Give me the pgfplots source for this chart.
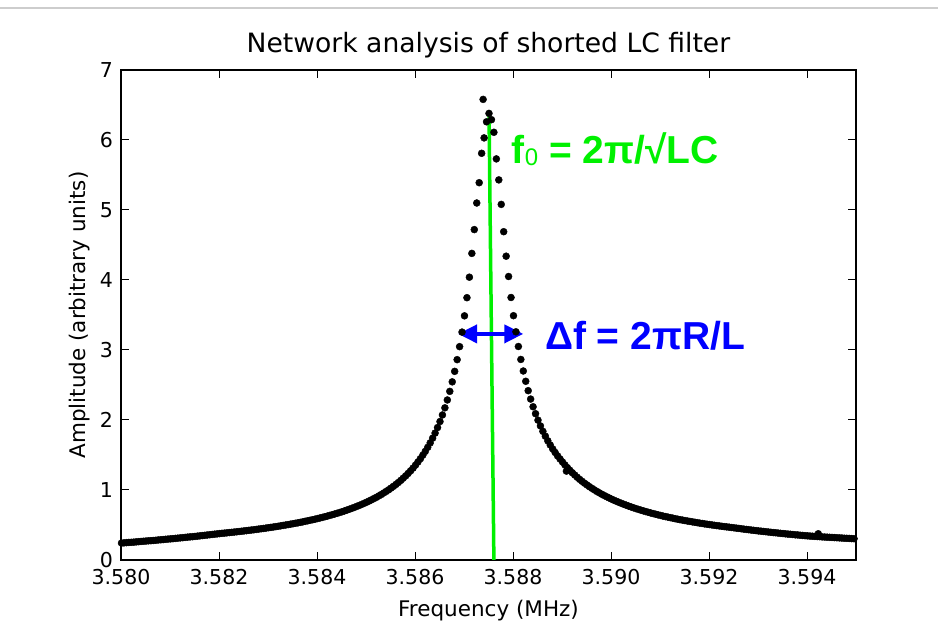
\documentclass[border=0pt]{standalone}
\usepackage{fontspec}
\setmainfont{DejaVu Sans}
\newfontfamily\annfont{Liberation Sans}
\usepackage{pgfplots}
\pgfplotsset{compat=1.18}
\usepackage{pgfplotstable}
\usetikzlibrary{arrows.meta}
\definecolor{myg}{RGB}{0,240,0}
\definecolor{topgray}{RGB}{205,205,205}

\pgfplotstableread{
x y
3.58001 0.242
3.58006 0.245
3.58011 0.248
3.58016 0.251
3.58021 0.253
3.58026 0.255
3.58031 0.259
3.58036 0.262
3.58041 0.265
3.58046 0.268
3.58051 0.271
3.58056 0.274
3.58061 0.276
3.58066 0.279
3.58071 0.282
3.58076 0.286
3.58081 0.289
3.58086 0.292
3.58091 0.296
3.58096 0.299
3.58101 0.302
3.58106 0.305
3.58111 0.309
3.58116 0.312
3.58121 0.316
3.58126 0.319
3.58131 0.323
3.58136 0.327
3.58141 0.330
3.58146 0.333
3.58151 0.337
3.58156 0.341
3.58161 0.345
3.58166 0.349
3.58171 0.353
3.58176 0.357
3.58181 0.361
3.58186 0.365
3.58191 0.369
3.58196 0.373
3.58201 0.377
3.58206 0.381
3.58211 0.384
3.58216 0.388
3.58221 0.392
3.58226 0.395
3.58231 0.399
3.58236 0.403
3.58241 0.407
3.58246 0.411
3.58251 0.415
3.58256 0.419
3.58261 0.424
3.58266 0.428
3.58271 0.432
3.58276 0.437
3.58281 0.442
3.58286 0.446
3.58291 0.451
3.58296 0.456
3.58301 0.461
3.58306 0.466
3.58311 0.471
3.58316 0.477
3.58321 0.482
3.58326 0.488
3.58331 0.494
3.58336 0.500
3.58341 0.506
3.58346 0.512
3.58351 0.518
3.58356 0.525
3.58361 0.531
3.58366 0.538
3.58371 0.545
3.58376 0.553
3.58381 0.560
3.58386 0.568
3.58391 0.575
3.58396 0.583
3.58401 0.592
3.58406 0.600
3.58411 0.609
3.58416 0.618
3.58421 0.627
3.58426 0.637
3.58431 0.647
3.58436 0.657
3.58441 0.667
3.58446 0.678
3.58451 0.689
3.58456 0.701
3.58461 0.713
3.58466 0.725
3.58471 0.738
3.58476 0.751
3.58481 0.765
3.58486 0.779
3.58491 0.794
3.58496 0.809
3.58501 0.825
3.58506 0.842
3.58511 0.859
3.58516 0.877
3.58521 0.895
3.58526 0.915
3.58531 0.935
3.58536 0.957
3.58541 0.979
3.58546 1.002
3.58551 1.027
3.58556 1.052
3.58561 1.079
3.58566 1.107
3.58571 1.137
3.58576 1.169
3.58581 1.202
3.58586 1.237
3.58591 1.274
3.58596 1.313
3.58601 1.355
3.58606 1.400
3.58611 1.447
3.58616 1.498
3.58621 1.552
3.58626 1.610
3.58631 1.673
3.58636 1.741
3.58641 1.813
3.58646 1.892
3.58651 1.978
3.58656 2.072
3.58661 2.174
3.58666 2.286
3.58671 2.409
3.58676 2.545
3.58681 2.695
3.58686 2.862
3.58691 3.048
3.58696 3.256
3.58701 3.488
3.58706 3.747
3.58711 4.04
3.58716 4.38
3.58721 4.72
3.58726 5.10
3.58731 5.39
3.58736 5.81
3.58739 6.58
3.58741 6.03
3.58746 6.26
3.58751 6.38
3.58756 6.29
3.58761 6.11
3.58766 5.73
3.58771 5.43
3.58776 5.08
3.58781 4.69
3.58786 4.34
3.58791 4.05
3.58796 3.75
3.58801 3.49
3.58806 3.26
3.58811 3.05
3.58816 2.865
3.58821 2.700
3.58826 2.553
3.58831 2.419
3.58836 2.299
3.58841 2.189
3.58846 2.090
3.58851 1.998
3.58856 1.915
3.58861 1.838
3.58866 1.769
3.58871 1.703
3.58876 1.643
3.58881 1.587
3.58886 1.536
3.58891 1.487
3.58896 1.443
3.58901 1.400
3.58906 1.358
3.58909 1.270
3.58911 1.319
3.58916 1.282
3.58921 1.247
3.58926 1.214
3.58931 1.182
3.58936 1.152
3.58941 1.124
3.58946 1.097
3.58951 1.072
3.58956 1.047
3.58961 1.024
3.58966 1.002
3.58971 0.980
3.58976 0.960
3.58981 0.940
3.58986 0.922
3.58991 0.904
3.58996 0.887
3.59001 0.870
3.59006 0.854
3.59011 0.839
3.59016 0.824
3.59021 0.810
3.59026 0.796
3.59031 0.783
3.59036 0.770
3.59041 0.758
3.59046 0.746
3.59051 0.734
3.59056 0.723
3.59061 0.712
3.59066 0.702
3.59071 0.692
3.59076 0.682
3.59081 0.672
3.59086 0.663
3.59091 0.654
3.59096 0.645
3.59101 0.637
3.59106 0.628
3.59111 0.620
3.59116 0.613
3.59121 0.605
3.59126 0.598
3.59131 0.590
3.59136 0.583
3.59141 0.576
3.59146 0.570
3.59151 0.563
3.59156 0.557
3.59161 0.551
3.59166 0.545
3.59171 0.539
3.59176 0.533
3.59181 0.527
3.59186 0.522
3.59191 0.516
3.59196 0.511
3.59201 0.506
3.59206 0.501
3.59211 0.496
3.59216 0.491
3.59221 0.487
3.59226 0.482
3.59231 0.477
3.59236 0.473
3.59241 0.469
3.59246 0.464
3.59251 0.460
3.59256 0.455
3.59261 0.451
3.59266 0.446
3.59271 0.441
3.59276 0.437
3.59281 0.433
3.59286 0.428
3.59291 0.424
3.59296 0.420
3.59301 0.415
3.59306 0.412
3.59311 0.408
3.59316 0.404
3.59321 0.400
3.59326 0.396
3.59331 0.392
3.59336 0.389
3.59341 0.385
3.59346 0.381
3.59351 0.378
3.59356 0.374
3.59361 0.370
3.59366 0.368
3.59371 0.364
3.59376 0.360
3.59381 0.358
3.59386 0.354
3.59391 0.351
3.59396 0.348
3.59401 0.345
3.59406 0.342
3.59411 0.340
3.59416 0.337
3.59421 0.335
3.59423 0.375
3.59426 0.333
3.59431 0.330
3.59436 0.328
3.59441 0.326
3.59446 0.324
3.59451 0.322
3.59456 0.320
3.59461 0.318
3.59466 0.316
3.59471 0.314
3.59476 0.311
3.59481 0.310
3.59486 0.308
3.59491 0.306
3.59496 0.304
3.59501 0.302
}\lcdata

\begin{document}
\begin{tikzpicture}
\useasboundingbox (0,0) rectangle (938bp,635bp);
\draw[topgray, line width=1.5bp] (0,627bp) -- (938bp,627bp);
\begin{axis}[
  at={(121bp,75bp)}, anchor=south west,
  scale only axis, width=735bp, height=490bp,
  xmin=3.580, xmax=3.595, ymin=0, ymax=7,
  xtick={3.580,3.582,3.584,3.586,3.588,3.590,3.592,3.594},
  xticklabels={3.580,3.582,3.584,3.586,3.588,3.590,3.592,3.594},
  ytick={0,1,2,3,4,5,6,7},
  yticklabels={0,1,2,3,4,5,6,7},
  tick align=inside,
  major tick length=8bp,
  tick style={black, line width=1bp},
  axis line style={line width=1.1bp},
  ticklabel style={font=\fontsize{20.5bp}{24bp}\selectfont, inner sep=0pt},
  xticklabel shift=9bp, yticklabel shift=8bp,
  title={Network analysis of shorted LC filter},
  title style={at={([yshift=12bp]rel axis cs:0.5,1)}, anchor=base, inner sep=0pt, font=\fontsize{26.6bp}{30bp}\selectfont},
  xlabel={Frequency (MHz)},
  xlabel style={at={([yshift=-40bp]rel axis cs:0.5,0)}, anchor=north, inner sep=0pt, font=\fontsize{21.5bp}{25bp}\selectfont},
  ylabel={Amplitude (arbitrary units)},
  ylabel style={at={([xshift=-31bp]rel axis cs:0,0.5)}, anchor=south, inner sep=0pt, font=\fontsize{21.5bp}{25bp}\selectfont},
]
\addplot[only marks, mark=*, mark size=3.5bp, black, mark options={fill=black, draw=black}] table[x=x, y=y] {\lcdata};
\addplot[myg, line width=3.5bp] coordinates {(3.58751,6.42) (3.58761,0)};
\draw[blue, line width=4bp, {Triangle[length=19bp,width=18bp]}-{Triangle[length=19bp,width=18bp]}] (axis cs:3.58688,3.23) -- (axis cs:3.58821,3.23);
\node[anchor=base west, inner sep=0pt, text=myg, font=\annfont\bfseries\fontsize{39bp}{42bp}\selectfont] at (axis cs:3.587975,5.67) {f\raisebox{-2bp}{\fontsize{24bp}{24bp}\selectfont\mdseries 0} = 2π/√LC};
\node[anchor=base west, inner sep=0pt, text=blue, font=\annfont\bfseries\fontsize{39bp}{42bp}\selectfont] at (axis cs:3.58865,3.0) {Δf = 2πR/L};
\end{axis}
\end{tikzpicture}
\end{document}
